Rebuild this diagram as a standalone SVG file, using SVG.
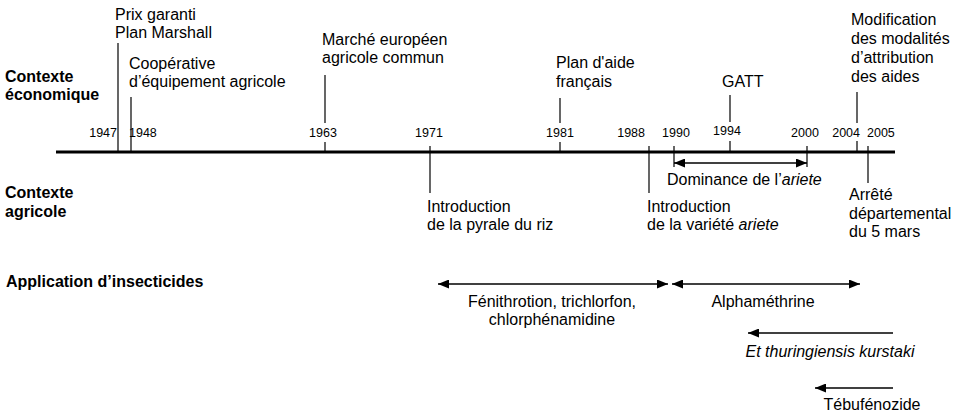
<svg xmlns="http://www.w3.org/2000/svg" width="956" height="419" viewBox="0 0 956 419">
<style>
text{font-family:"Liberation Sans",Arial,Helvetica,sans-serif;font-size:16px;fill:#000}
.h{font-weight:bold}
.yr{font-size:12.5px}
.it{font-style:italic}
.axis{stroke:#000;stroke-width:3;fill:none}
.tick{stroke:#000;stroke-width:1.2;fill:none}
.arr{stroke:#000;stroke-width:1.5;fill:none}
</style>
<defs>
<marker id="ah" viewBox="0 0 11 9" refX="11" refY="4.5" markerWidth="11" markerHeight="9" markerUnits="userSpaceOnUse" orient="auto-start-reverse">
<path d="M0,0 L11,4.5 L0,9 z" fill="#000"/>
</marker>
</defs>
<rect width="956" height="419" fill="#fff"/>

<g id="connectors">
<line class="axis" x1="56" y1="152" x2="895" y2="152"/>
<line class="tick" x1="118" y1="43" x2="118" y2="153"/>
<line class="tick" x1="131" y1="97" x2="131" y2="153"/>
<line class="tick" x1="325" y1="75" x2="325" y2="123"/>
<line class="tick" x1="325" y1="142" x2="325" y2="153"/>
<line class="tick" x1="560" y1="98" x2="560" y2="123"/>
<line class="tick" x1="560" y1="142" x2="560" y2="153"/>
<line class="tick" x1="730" y1="95" x2="730" y2="122"/>
<line class="tick" x1="730" y1="141" x2="730" y2="153"/>
<line class="tick" x1="857" y1="92" x2="857" y2="123"/>
<line class="tick" x1="857" y1="141" x2="857" y2="153"/>
<line class="tick" x1="430" y1="146" x2="430" y2="193"/>
<line class="tick" x1="649" y1="146" x2="649" y2="193"/>
<line class="tick" x1="674" y1="146" x2="674" y2="167"/>
<line class="tick" x1="807" y1="146" x2="807" y2="167"/>
<line class="tick" x1="868" y1="146" x2="868" y2="183"/>
<line class="arr" x1="674" y1="163" x2="807" y2="163" marker-start="url(#ah)" marker-end="url(#ah)"/>
<line class="arr" x1="438" y1="284" x2="668" y2="284" marker-start="url(#ah)" marker-end="url(#ah)"/>
<line class="arr" x1="672" y1="284" x2="860" y2="284" marker-start="url(#ah)" marker-end="url(#ah)"/>
<line class="arr" x1="748" y1="333" x2="893" y2="333" marker-start="url(#ah)"/>
<line class="arr" x1="815" y1="388" x2="893" y2="388" marker-start="url(#ah)"/>
</g>

<g id="row-labels">
<text class="h" x="5" y="82">Contexte</text>
<text class="h" x="5" y="100">économique</text>
<text class="h" x="5" y="198">Contexte</text>
<text class="h" x="5" y="217">agricole</text>
<text class="h" x="6" y="287">Application d’insecticides</text>
</g>

<g id="years">
<text class="yr" x="117" y="137" text-anchor="end">1947</text>
<text class="yr" x="129" y="137">1948</text>
<text class="yr" x="323" y="137" text-anchor="middle">1963</text>
<text class="yr" x="429" y="137" text-anchor="middle">1971</text>
<text class="yr" x="560" y="137" text-anchor="middle">1981</text>
<text class="yr" x="645" y="137" text-anchor="end">1988</text>
<text class="yr" x="676" y="137" text-anchor="middle">1990</text>
<text class="yr" x="727" y="135" text-anchor="middle">1994</text>
<text class="yr" x="805" y="137" text-anchor="middle">2000</text>
<text class="yr" x="860" y="137" text-anchor="end">2004</text>
<text class="yr" x="867" y="137">2005</text>
</g>

<g id="e1947"><text x="115" y="20">Prix garanti</text><text x="115" y="38">Plan Marshall</text></g>
<g id="e1948"><text x="129" y="69">Coopérative</text><text x="129" y="87">d’équipement agricole</text></g>
<g id="e1963"><text x="322" y="45">Marché européen</text><text x="322" y="63">agricole commun</text></g>
<g id="e1981"><text x="556" y="68">Plan d'aide</text><text x="556" y="87">français</text></g>
<g id="e1994"><text x="722" y="87">GATT</text></g>
<g id="e2004"><text x="851" y="25">Modification</text><text x="851" y="44">des modalités</text><text x="851" y="63">d’attribution</text><text x="851" y="82">des aides</text></g>

<g id="a1971"><text x="427" y="212">Introduction</text><text x="427" y="230">de la pyrale du riz</text></g>
<g id="a1988"><text x="647" y="212">Introduction</text><text x="647" y="230">de la variété <tspan class="it">ariete</tspan></text></g>
<g id="a1990"><text x="667" y="185">Dominance de l’<tspan class="it">ariete</tspan></text></g>
<g id="a2005"><text x="849" y="200">Arrêté</text><text x="849" y="218.5">départemental</text><text x="849" y="237">du 5 mars</text></g>

<g id="i1"><text x="552" y="307" text-anchor="middle">Fénithrotion, trichlorfon,</text><text x="552" y="325" text-anchor="middle">chlorphénamidine</text></g>
<g id="i2"><text x="763" y="307" text-anchor="middle">Alphaméthrine</text></g>
<g id="i3"><text class="it" x="830" y="357" text-anchor="middle">Et thuringiensis kurstaki</text></g>
<g id="i4"><text x="872" y="410" text-anchor="middle">Tébufénozide</text></g>
</svg>
